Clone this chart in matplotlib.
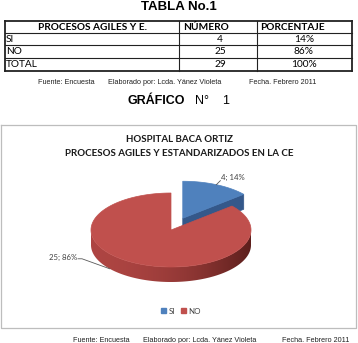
import matplotlib
matplotlib.use("Agg")
import matplotlib.pyplot as plt
from matplotlib.patches import Polygon, Patch
from matplotlib import font_manager
import numpy as np

# data
categories = ["SI", "NO"]
counts = [4, 25]
total_name = "TOTAL"
headers = ["PROCESOS AGILES Y E.", "NÚMERO", "PORCENTAJE"]
chart_title = "HOSPITAL BACA ORTIZ\nPROCESOS AGILES Y ESTANDARIZADOS EN LA CE"
caption = ["Fuente: Encuesta", "Elaborado por: Lcda. Yánez Violeta", "Fecha. Febrero 2011"]

BLUE, BLUE_SIDE = "#4F81BD", "#34588A"
RED = "#C0504D"
RED_SIDE_L, RED_SIDE_R = np.array([0.68, 0.27, 0.26]), np.array([0.36, 0.12, 0.11])

names = {f.name for f in font_manager.fontManager.ttflist}
NARROW = "Liberation Sans Narrow" if "Liberation Sans Narrow" in names else None
CAL = "Lato"

total = sum(counts)
pcts = [round(100 * c / total) for c in counts]

fig = plt.figure(figsize=(3.58, 3.43), dpi=100)
ax = fig.add_axes([0, 0, 1, 1])
ax.set_xlim(0, 358)
ax.set_ylim(343, 0)
ax.axis("off")

# ---- table header part ----
ax.text(179, 10, "TABLA No.1", ha="center", va="baseline", fontsize=9.5,
        fontweight="bold", family="Liberation Sans")

col_x = [5, 179, 257, 352]
row_y = [21, 33, 45, 58, 71]
for y in row_y:
    lw = 1.3 if y in (row_y[0], row_y[-1]) else 0.8
    ax.plot([col_x[0], col_x[-1]], [y, y], color="#222222", lw=lw)
for x in col_x:
    lw = 1.3 if x in (col_x[0], col_x[-1]) else 0.8
    ax.plot([x, x], [row_y[0], row_y[-1]], color="#222222", lw=lw)

hy = (row_y[0] + row_y[1]) / 2
ax.text(92, hy, headers[0], ha="center", va="center", fontsize=7.3,
        fontweight="bold", family=CAL)
ax.text(183, hy, headers[1], ha="left", va="center", fontsize=7.3,
        fontweight="bold", family=CAL)
ax.text(260, hy, headers[2], ha="left", va="center", fontsize=7.3,
        fontweight="bold", family=CAL)

rows = [(c, n, f"{p}%") for c, n, p in zip(categories, counts, pcts)]
rows.append((total_name, total, f"{sum(pcts)}%"))
for i, (name, n, p) in enumerate(rows):
    y = (row_y[i + 1] + row_y[i + 2]) / 2
    ax.text(6, y, name, ha="left", va="center", fontsize=7.3, family=CAL)
    ax.text(220, y, str(n), ha="center", va="center", fontsize=7.3, family=CAL)
    ax.text(304, y, p, ha="center", va="center", fontsize=7.3, family=CAL)


def put_caption(y, xs):
    for x, s in zip(xs, caption):
        if NARROW:
            ax.text(x, y, s, ha="left", va="center", fontsize=6, family=NARROW,
                    color="#222222")
        else:
            ax.text(x, y, s, ha="left", va="center", fontsize=5.2,
                    family="Liberation Sans", color="#222222")


put_caption(82, [38, 108, 249])

ax.text(128, 101, "GRÁFICO", ha="left", va="center", fontsize=9,
        fontweight="bold", family="Liberation Sans")
ax.text(195, 101, "N°", ha="left", va="center", fontsize=9, family="Liberation Sans")
ax.text(222, 101, "1", ha="left", va="center", fontsize=9, family="Liberation Sans")

# ---- chart frame ----
fc = "#BDBDBD"
ax.plot([0.5, 356, 356, 0.5, 0.5], [125, 125, 328, 328, 125], color=fc, lw=0.9)

ax.text(179, 139, chart_title.split("\n")[0], ha="center", va="center",
        fontsize=7, fontweight="bold", family=CAL, color="#1A1A1A")
ax.text(179, 153, chart_title.split("\n")[1], ha="center", va="center",
        fontsize=7, fontweight="bold", family=CAL, color="#1A1A1A")

# ---- 3D pie ----
CX, CY = 171, 230
RX, RY = 80, 37
DEPTH = 15
EXPLODE = 0.35


def rim(t, cx, cy, dz=0.0):
    t = np.radians(t)
    return cx + RX * np.cos(t), cy - RY * np.sin(t) + dz


fracs = [c / total for c in counts]
starts, ends = [], []
a = 90.0
for f in fracs:
    starts.append(a)
    a -= 360 * f
    ends.append(a)

# SI slice (exploded, behind)
t1, t2 = starts[0], ends[0]
mid = (t1 + t2) / 2
cx = CX + EXPLODE * RX * np.cos(np.radians(mid))
cy = CY - EXPLODE * RY * np.sin(np.radians(mid))
rx2, ry2 = rim(t2, cx, cy)
face = [(cx, cy), (rx2, ry2), (rx2, ry2 + DEPTH), (cx, cy + DEPTH)]
ax.add_patch(Polygon(face, closed=True, fc=BLUE_SIDE, ec=BLUE_SIDE, lw=0.5))
ts = np.linspace(t2, t1, 60)
xs, ys = rim(ts, cx, cy)
top = [(cx, cy)] + list(zip(xs, ys))
ax.add_patch(Polygon(top, closed=True, fc=BLUE, ec=BLUE, lw=0.5))
ax_, ay_ = rim(mid, cx, cy)
ax.plot([ax_, ax_ + 4], [ay_, ay_ - 4], color="#595959", lw=0.6)
ax.text(ax_ + 5, ay_ - 7, f"{counts[0]}; {pcts[0]}%", ha="left", va="center",
        fontsize=5.6, family=CAL, color="#404040")

# NO slice: side wall (front half, shaded left->right) then top
t1, t2 = starts[1], ends[1]
lo, hi = max(t2, -180), min(t1, 0)
wt = np.linspace(lo, hi, 200)
wx, wy = rim(wt, CX, CY)
wall = list(zip(wx, wy)) + list(zip(wx[::-1], wy[::-1] + DEPTH))
wall_patch = Polygon(wall, closed=True, fc="none", ec="none")
ax.add_patch(wall_patch)
s = np.linspace(0, 1, 256) ** 2
grad = RED_SIDE_L[None, :] * (1 - s[:, None]) + RED_SIDE_R[None, :] * s[:, None]
img = ax.imshow(grad[None, :, :], extent=(CX - RX - 1, CX + RX + 1, CY + RY + DEPTH + 1, CY - 2),
                aspect="auto", interpolation="bilinear", zorder=1)
img.set_clip_path(wall_patch)
ax.set_xlim(0, 358)
ax.set_ylim(343, 0)

ts = np.linspace(t2, t1, 300)
xs, ys = rim(ts, CX, CY)
top = [(CX, CY)] + list(zip(xs, ys))
ax.add_patch(Polygon(top, closed=True, fc=RED, ec=RED, lw=0.5, zorder=2))

LABEL_ANGLE = 220
bx, by = rim(LABEL_ANGLE, CX, CY, DEPTH)
ax.plot([bx, 82, 78], [by, by - 10, by - 10], color="#595959", lw=0.6, zorder=3)
ax.text(77, by - 11, f"{counts[1]}; {pcts[1]}%", ha="right", va="center",
        fontsize=5.6, family=CAL, color="#404040")

# legend
handles = [Patch(fc=c, ec=c) for c in (BLUE, RED)]
leg = ax.legend(handles, categories, loc="center", bbox_to_anchor=(181 / 358, 1 - 311 / 343),
                ncol=2, frameon=False, handlelength=0.6, handleheight=0.6,
                handletextpad=0.3, columnspacing=0.7,
                prop={"family": CAL, "size": 5.8})
for t in leg.get_texts():
    t.set_color("#404040")

put_caption(341, [73, 143, 282])

fig.savefig("out.png", dpi=100)
